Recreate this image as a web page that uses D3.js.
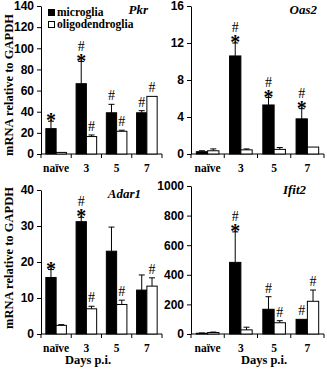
<!DOCTYPE html>
<html>
<head>
<meta charset="utf-8">
<script src="https://cdn.jsdelivr.net/npm/d3@7"></script>
<style>
  body { margin: 0; background: #fff; }
  svg { display: block; font-family: "Liberation Serif", "Times New Roman", serif; }
  .tick text { font-weight: bold; }
</style>
</head>
<body>
<svg width="327" height="369"></svg>
<script>
// categories
const days = ["naïve", "3", "5", "7"];

// Pkr
const pkrMicro = [24, 66.5, 39, 39];
const pkrMicroSd = [7, 21, 8, 2];
const pkrOligo = [1.5, 16.5, 21.5, 54.5];
const pkrOligoSd = [0, 1.5, 1, 0];
const pkrMicroSig = ["*", "#*", "#", "#"];
const pkrOligoSig = ["", "#", "#", "#"];
const pkrTicks = [0, 20, 40, 60, 80, 100, 120, 140];

// Oas2
const oasMicro = [0.25, 10.6, 5.3, 3.8];
const oasMicroSd = [0.1, 1.4, 0.8, 1.1];
const oasOligo = [0.35, 0.45, 0.5, 0.75];
const oasOligoSd = [0.2, 0.1, 0.2, 0];
const oasMicroSig = ["", "#*", "#*", "#*"];
const oasOligoSig = ["", "", "", ""];
const oasTicks = [0, 4, 8, 12, 16];

// Adar1
const adarMicro = [15.7, 31.2, 23, 12.2];
const adarMicroSd = [2.2, 1.2, 6.7, 4.2];
const adarOligo = [2.4, 7, 8.2, 13.3];
const adarOligoSd = [0.2, 0.7, 1.2, 2.3];
const adarMicroSig = ["*", "#*", "", ""];
const adarOligoSig = ["", "#", "#", "#"];
const adarTicks = [0, 10, 20, 30, 40];

// Ifit2
const ifitMicro = [5, 484, 167, 99];
const ifitMicroSd = [2, 206, 85, 0];
const ifitOligo = [10, 28, 76, 221];
const ifitOligoSd = [3, 18, 14, 76];
const ifitMicroSig = ["", "#*", "#", "#"];
const ifitOligoSig = ["", "", "#", "#"];
const ifitTicks = [0, 200, 400, 600, 800, 1000];

const svg = d3.select("svg");

function panel(opt) {
    const g = svg.append("g");

    const x = d3.scaleBand()
        .domain(days)
        .range([opt.x0, opt.x1]);

    const y = d3.scaleLinear()
        .domain([0, opt.ticks[opt.ticks.length - 1]])
        .range([opt.y0, opt.y1]);

    const bw = x.bandwidth() * 0.34;

    // y axis
    const ya = g.append("g")
        .attr("transform", `translate(${opt.x0},0)`)
        .call(d3.axisLeft(y).tickValues(opt.ticks).tickFormat(d3.format("d"))
            .tickSize(4).tickPadding(3).tickSizeOuter(0));
    ya.selectAll(".tick text").style("font-size", "12px").attr("fill", "#000");

    // x axis, ticks sit on the group boundaries
    g.append("line")
        .attr("x1", opt.x0).attr("x2", opt.x1)
        .attr("y1", opt.y0).attr("y2", opt.y0)
        .attr("stroke", "#000");
    g.selectAll(".xtick")
        .data(days.concat(["end"]))
        .enter().append("line")
        .attr("x1", (d, i) => opt.x0 + i * x.step())
        .attr("x2", (d, i) => opt.x0 + i * x.step())
        .attr("y1", opt.y0).attr("y2", opt.y0 + 4)
        .attr("stroke", "#000");
    g.selectAll(".xlab")
        .data(days)
        .enter().append("text")
        .attr("x", d => x(d) + x.bandwidth() / 2)
        .attr("y", opt.y0 + 18)
        .attr("text-anchor", "middle")
        .style("font-size", "11.5px")
        .style("font-weight", "bold")
        .text(d => d);

    const series = [
        { vals: opt.micro, sd: opt.microSd, sig: opt.microSig, fill: "#000", off: -bw },
        { vals: opt.oligo, sd: opt.oligoSd, sig: opt.oligoSig, fill: "#fff", off: 0 }
    ];

    series.forEach(s => {
        const cx = d => x(d) + x.bandwidth() / 2 + s.off;

        g.selectAll(null)
            .data(days)
            .enter().append("rect")
            .attr("x", d => cx(d))
            .attr("y", (d, i) => y(s.vals[i]))
            .attr("width", bw)
            .attr("height", (d, i) => opt.y0 - y(s.vals[i]))
            .attr("fill", s.fill)
            .attr("stroke", "#000")
            .attr("stroke-width", 1);

        // upper error bars
        days.forEach((d, i) => {
            if (!s.sd[i]) return;
            const mx = cx(d) + bw / 2;
            g.append("line")
                .attr("x1", mx).attr("x2", mx)
                .attr("y1", y(s.vals[i])).attr("y2", y(s.vals[i] + s.sd[i]))
                .attr("stroke", "#000");
            g.append("line")
                .attr("x1", mx - 3).attr("x2", mx + 3)
                .attr("y1", y(s.vals[i] + s.sd[i])).attr("y2", y(s.vals[i] + s.sd[i]))
                .attr("stroke", "#000");
        });

        // significance marks: "#" stacked over "*" in one text element
        days.forEach((d, i) => {
            const sig = s.sig[i];
            if (!sig) return;
            const mx = cx(d) + bw / 2;
            let top = y(s.vals[i] + s.sd[i]);
            const t = g.append("text").attr("text-anchor", "middle");
            if (sig.includes("#")) {
                t.append("tspan")
                    .attr("x", mx)
                    .attr("y", sig.includes("*") ? top - 11 : top - 4)
                    .style("font-size", "14px")
                    .text("#");
            }
            if (sig.includes("*")) {
                t.append("tspan")
                    .attr("x", mx).attr("y", top + 6)
                    .style("font-size", "20px")
                    .style("font-weight", "bold")
                    .text("*");
            }
        });
    });

    // gene name
    g.append("text")
        .attr("x", opt.nameX)
        .attr("y", opt.y1 + 8)
        .attr("text-anchor", "end")
        .style("font-size", "13px")
        .style("font-weight", "bold")
        .style("font-style", "italic")
        .text(opt.name);

    return g;
}

panel({ name: "Pkr", x0: 41, x1: 162, y0: 154, y1: 6, ticks: pkrTicks, nameX: 148,
    micro: pkrMicro, microSd: pkrMicroSd, microSig: pkrMicroSig,
    oligo: pkrOligo, oligoSd: pkrOligoSd, oligoSig: pkrOligoSig });

panel({ name: "Oas2", x0: 191, x1: 324, y0: 154, y1: 6, ticks: oasTicks, nameX: 317,
    micro: oasMicro, microSd: oasMicroSd, microSig: oasMicroSig,
    oligo: oasOligo, oligoSd: oasOligoSd, oligoSig: oasOligoSig });

panel({ name: "Adar1", x0: 41, x1: 162, y0: 334, y1: 190, ticks: adarTicks, nameX: 141,
    micro: adarMicro, microSd: adarMicroSd, microSig: adarMicroSig,
    oligo: adarOligo, oligoSd: adarOligoSd, oligoSig: adarOligoSig });

panel({ name: "Ifit2", x0: 191, x1: 324, y0: 334, y1: 186, ticks: ifitTicks, nameX: 306,
    micro: ifitMicro, microSd: ifitMicroSd, microSig: ifitMicroSig,
    oligo: ifitOligo, oligoSd: ifitOligoSd, oligoSig: ifitOligoSig });

// y axis titles
[85, 258].forEach(cy => {
    svg.append("text")
        .attr("transform", `translate(13,${cy}) rotate(-90)`)
        .attr("text-anchor", "middle")
        .style("font-size", "12.5px")
        .style("font-weight", "bold")
        .text("mRNA relative to GAPDH");
});

// x axis titles
[88, 264].forEach(cx => {
    svg.append("text")
        .attr("x", cx)
        .attr("y", 364)
        .attr("text-anchor", "middle")
        .style("font-size", "12.5px")
        .style("font-weight", "bold")
        .text("Days p.i.");
});

// legend
const legend = svg.append("g");
[["microglia", "#000"], ["oligodendroglia", "#fff"]].forEach(([label, fill], i) => {
    legend.append("rect")
        .attr("x", 48.5).attr("y", 9.5 + i * 12)
        .attr("width", 6).attr("height", 6)
        .attr("fill", fill).attr("stroke", "#000");
    legend.append("text")
        .attr("x", 57).attr("y", 16 + i * 12)
        .style("font-size", "11.5px")
        .style("font-weight", "bold")
        .text(label);
});
</script>
</body>
</html>
